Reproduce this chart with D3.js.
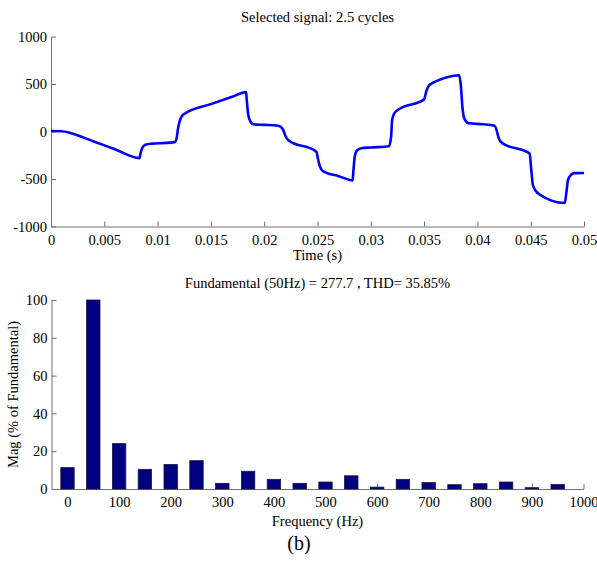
<!DOCTYPE html>
<html>
<head>
<meta charset="utf-8">
<script src="https://cdn.jsdelivr.net/npm/d3@7"></script>
<style>
  html, body { margin: 0; padding: 0; background: #fff; }
  svg text { font-family: "Liberation Serif", "Times New Roman", serif; fill: #000; }
</style>
</head>
<body>
<svg id="chart" width="597" height="561"></svg>
<script>
// ---- Data: top signal (time in s, value) ----
const signalTime = [0, 0.0010, 0.0018, 0.0040, 0.0060, 0.0083, 0.0084, 0.0086, 0.0089, 0.0095, 0.0105, 0.0116,
  0.0118, 0.0119, 0.0121, 0.0123, 0.0126, 0.0150, 0.0170, 0.0183, 0.01835, 0.0185, 0.0187, 0.0190, 0.0200,
  0.0213, 0.0216, 0.0218, 0.0220, 0.0223, 0.0249, 0.02505, 0.0252, 0.0254, 0.0257, 0.0270, 0.0283, 0.02835,
  0.0285, 0.0287, 0.0291, 0.0300, 0.0317, 0.0319, 0.0320, 0.0322, 0.0326, 0.0350, 0.0352, 0.0354, 0.0357,
  0.0360, 0.0383, 0.03845, 0.0386, 0.0388, 0.0392, 0.0405, 0.0416, 0.0418, 0.0420, 0.0423, 0.0449, 0.04505,
  0.0452, 0.0455, 0.0458, 0.0482, 0.04835, 0.0485, 0.0488, 0.0491, 0.0500];
const signalValue = [5, 2, -15, -105, -186, -280, -230, -165, -138, -128, -122, -112,
  -60, 20, 119, 165, 192, 288, 366, 415, 350, 180, 105, 76, 70,
  60, 45, 12, -50, -95, -212, -290, -360, -405, -428, -470, -514, -440,
  -260, -200, -176, -168, -155, -60, 120, 190, 232, 338, 420, 475, 505,
  522, 592, 480, 250, 130, 86, 76, 60, 15, -70, -120, -232, -400,
  -560, -630, -660, -752, -640, -510, -455, -438, -437];

// ---- Data: harmonic spectrum ----
const harmonicFreq = [0, 50, 100, 150, 200, 250, 300, 350, 400, 450, 500, 550, 600, 650, 700, 750, 800, 850, 900, 950];
const harmonicMag  = [11.3, 100, 24, 10.4, 13, 15, 3, 9.4, 5.1, 3, 3.7, 7, 1, 5.1, 3.4, 2.3, 2.8, 3.7, 0.7, 2.4];

const topXTicks = [0, 0.005, 0.01, 0.015, 0.02, 0.025, 0.03, 0.035, 0.04, 0.045, 0.05];
const topXTickLabels = ["0", "0.005", "0.01", "0.015", "0.02", "0.025", "0.03", "0.035", "0.04", "0.045", "0.05"];
const topYTicks = [-1000, -500, 0, 500, 1000];
const botXTicks = [0, 100, 200, 300, 400, 500, 600, 700, 800, 900, 1000];
const botYTicks = [0, 20, 40, 60, 80, 100];

const titleTop = "Selected signal: 2.5 cycles";
const xLabelTop = "Time (s)";
const titleBot = "Fundamental (50Hz) = 277.7 , THD= 35.85%";
const xLabelBot = "Frequency (Hz)";
const yLabelBot = "Mag (% of Fundamental)";
const caption = "(b)";

const svg = d3.select("#chart");
const axisColor = "#707070";
const fontSize = 14.5;
const plainFmt = d => String(d);

function styleAxis(g) {
  g.select(".domain").attr("stroke", axisColor);
  g.selectAll(".tick line").attr("stroke", axisColor);
  g.selectAll(".tick text").attr("font-size", fontSize).attr("font-family", '"Liberation Serif", serif').attr("fill", "#000");
}

// ---- Top plot ----
const pTop = { left: 51, right: 584, top: 36.5, bottom: 226.5 };
const xT = d3.scaleLinear().domain([0, 0.05]).range([pTop.left, pTop.right]);
const yT = d3.scaleLinear().domain([-1000, 1000]).range([pTop.bottom, pTop.top]);

const gTopX = svg.append("g").attr("transform", `translate(0,${pTop.bottom})`)
  .call(d3.axisBottom(xT).tickValues(topXTicks).tickFormat((d, i) => topXTickLabels[i]).tickSizeInner(-5).tickSizeOuter(0).tickPadding(8));
styleAxis(gTopX);
const gTopY = svg.append("g").attr("transform", `translate(${pTop.left},0)`)
  .call(d3.axisLeft(yT).tickValues(topYTicks).tickFormat(plainFmt).tickSizeInner(-5).tickSizeOuter(0).tickPadding(4));
styleAxis(gTopY);

const pts = signalTime.map((t, i) => [t, signalValue[i]]);
svg.append("path")
  .datum(pts)
  .attr("fill", "none")
  .attr("stroke", "#0000FF")
  .attr("stroke-width", 2.6)
  .attr("stroke-linejoin", "round")
  .attr("d", d3.line().x(d => xT(d[0])).y(d => yT(d[1])).curve(d3.curveMonotoneX));

svg.append("text").attr("x", (pTop.left + pTop.right) / 2).attr("y", 22)
  .attr("text-anchor", "middle").attr("font-size", fontSize).text(titleTop);
svg.append("text").attr("x", (pTop.left + pTop.right) / 2).attr("y", 260)
  .attr("text-anchor", "middle").attr("font-size", fontSize).text(xLabelTop);

// ---- Bottom plot ----
const pBot = { left: 51.5, right: 583.5, top: 300, bottom: 489 };
const xB = d3.scaleLinear().domain([-31, 1000]).range([pBot.left, pBot.right]);
const yB = d3.scaleLinear().domain([0, 100]).range([pBot.bottom, pBot.top]);
const barHalf = 13;

const gBotX = svg.append("g").attr("transform", `translate(0,${pBot.bottom})`)
  .call(d3.axisBottom(xB).tickValues(botXTicks).tickFormat(plainFmt).tickSizeInner(-5).tickSizeOuter(0).tickPadding(8));
styleAxis(gBotX);
const gBotY = svg.append("g").attr("transform", `translate(${pBot.left},0)`)
  .call(d3.axisLeft(yB).tickValues(botYTicks).tickFormat(plainFmt).tickSizeInner(-5).tickSizeOuter(0).tickPadding(4));
styleAxis(gBotY);

svg.append("g").selectAll("rect")
  .data(harmonicFreq.map((f, i) => ({ f, m: harmonicMag[i] })))
  .join("rect")
  .attr("x", d => xB(d.f - barHalf))
  .attr("width", d => xB(d.f + barHalf) - xB(d.f - barHalf))
  .attr("y", d => yB(d.m))
  .attr("height", d => yB(0) - yB(d.m))
  .attr("fill", "#000080")
  .attr("stroke", "#1a1a40")
  .attr("stroke-width", 0.8);

svg.append("text").attr("x", (pTop.left + pTop.right) / 2).attr("y", 288)
  .attr("text-anchor", "middle").attr("font-size", fontSize).text(titleBot);
svg.append("text").attr("x", (pTop.left + pTop.right) / 2).attr("y", 526)
  .attr("text-anchor", "middle").attr("font-size", fontSize).text(xLabelBot);
svg.append("text").attr("transform", `translate(18,${(pBot.top + pBot.bottom) / 2}) rotate(-90)`)
  .attr("text-anchor", "middle").attr("font-size", fontSize).text(yLabelBot);
svg.append("text").attr("x", 299).attr("y", 550)
  .attr("text-anchor", "middle").attr("font-size", 20).text(caption);
</script>
</body>
</html>
